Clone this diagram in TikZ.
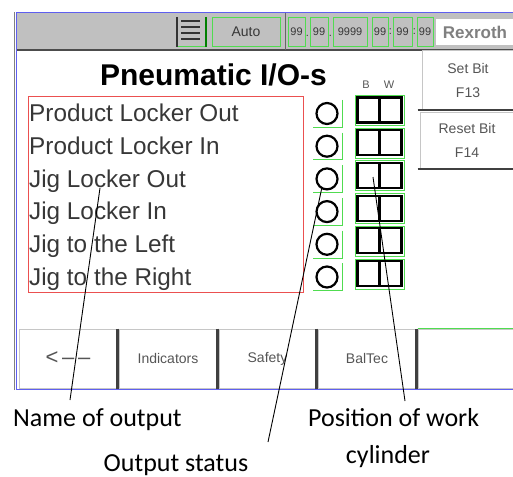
\documentclass[tikz,border=0pt]{standalone}
\usepackage{xcolor}
\usepackage{fontspec}
\setmainfont{Liberation Sans}
\newfontfamily\notefont{Carlito}

\definecolor{hmigreen}{RGB}{80,220,80}
\definecolor{hmired}{RGB}{235,80,80}
\definecolor{frameblue}{RGB}{95,95,240}
\definecolor{bargray}{RGB}{192,192,192}
\definecolor{txtgray}{RGB}{55,55,55}
\definecolor{btngray}{RGB}{85,85,85}

\begin{document}
\begin{tikzpicture}[x=1pt,y=-1pt]
        % Define styles
        \tikzset{
            ioname/.style={anchor=base west, inner sep=0pt, text=txtgray, font=\fontsize{24.3}{24}\selectfont},
            status/.style={circle, draw, line width=2.2pt, minimum size=21pt, inner sep=0pt},
            statframe/.style={rectangle, minimum width=29pt, minimum height=27pt, inner sep=0pt},
            cylbox/.style={rectangle, draw, line width=2.2pt, minimum width=22pt, minimum height=25pt, inner sep=0pt},
            cylframe/.style={rectangle, draw=hmigreen, line width=1pt, minimum width=49pt, minimum height=30pt, inner sep=0pt},
            digit/.style={rectangle, draw=hmigreen, line width=1pt, minimum height=29pt, inner sep=0pt, text=txtgray, font=\fontsize{11}{11}\selectfont},
            sep/.style={inner sep=0pt, text=txtgray, font=\fontsize{11}{11}\selectfont},
            softbtn/.style={rectangle, draw=gray!45, line width=1pt, inner sep=0pt, align=center, text=btngray, font=\fontsize{14}{24}\selectfont},
            darkline/.style={draw=black!75, line width=2.5pt},
            note/.style={inner sep=0pt, font=\notefont\fontsize{26}{26}\selectfont},
            pointer/.style={draw=black, line width=0.9pt}
        }
        \useasboundingbox (0,0) rectangle (513,476);

        % Screen frame and top bar
        \fill[bargray] (17,13) rectangle (513,50);
        \draw[gray, line width=0.8pt] (14.5,12) -- (14.5,390);
        \draw[frameblue, line width=1.6pt] (513,12.5) -- (16.5,12.5) -- (16.5,389.5) -- (513,389.5);
        \draw[black!70, line width=1.5pt] (17,50) -- (513,50);
        \draw[black!60, line width=1pt] (285,13) -- (285,50);

        % Menu icon
        \draw[black!80, line width=1.4pt] (177,17) -- (177,47);
        \draw[black!80, line width=1.2pt] (181,21) -- (200,21) (181,27) -- (200,27)
            (181,33) -- (200,33) (181,39) -- (200,39);
        \draw[hmigreen, line width=1.2pt] (178,46.5) -- (206,46.5);
        \draw[green!50!black, line width=1.4pt] (206,17) -- (206,47);

        % Mode and clock
        \node[digit, minimum width=68pt, font=\fontsize{14}{14}\selectfont] (mode) at (246,32) {Auto};
        \node[digit, minimum width=17pt] (day) at (296.5,32) {99};
        \node[sep] (dot1) at (307.5,36) {.};
        \node[digit, minimum width=18pt] (month) at (319,32) {99};
        \node[sep] (dot2) at (330.5,36) {.};
        \node[digit, minimum width=34pt] (year) at (350,32) {9999};
        \node[digit, minimum width=16pt] (hour) at (380,32) {99};
        \node[sep] (col1) at (390.5,32) {:};
        \node[digit, minimum width=19pt] (minute) at (402.5,32) {99};
        \node[sep] (col2) at (414.5,32) {:};
        \node[digit, minimum width=16pt] (second) at (425,32) {99};
        \node[fill=white, minimum width=78pt, minimum height=26pt, inner sep=0pt, text=gray,
            font=\bfseries\fontsize{17}{17}\selectfont] (brand) at (475,32) {Rexroth};

        % Title
        \node[anchor=base, inner sep=0pt, font=\bfseries\fontsize{30}{30}\selectfont] (title) at (213.5,85) {Pneumatic I/O-s};
        \node[inner sep=0pt, text=btngray, font=\fontsize{11}{11}\selectfont] (blabel) at (366,85) {B};
        \node[inner sep=0pt, text=btngray, font=\fontsize{11}{11}\selectfont] (wlabel) at (389,85) {W};

        % Right buttons
        \node[softbtn, minimum width=92pt, minimum height=58pt] (setbit) at (468,80) {Set Bit\\F13};
        \draw[darkline, line width=2pt] ([xshift=-4pt]setbit.south west) -- (setbit.south east);
        \node[softbtn, minimum width=94pt, minimum height=56pt] (resetbit) at (467,140) {Reset Bit\\F14};
        \draw[darkline, line width=2pt] ([xshift=-2pt]resetbit.south west) -- (resetbit.south east);

        % Names of outputs
        \node[draw=hmired, line width=1pt, minimum width=275pt, minimum height=195pt] (namebox) at (165.5,194.5) {};
        \node[ioname] (name1) at (29,121.7) {Product Locker Out};
        \node[ioname] (name2) at (29,154.4) {Product Locker In};
        \node[ioname] (name3) at (29,187.1) {Jig Locker Out};
        \node[ioname] (name4) at (29,219.8) {Jig Locker In};
        \node[ioname] (name5) at (29,252.5) {Jig to the Left};
        \node[ioname] (name6) at (29,285.2) {Jig to the Right};

        % Output status
        \node[statframe] (sf1) at (327.5,113.5) {};
        \node[statframe] (sf2) at (327.5,146.2) {};
        \node[statframe] (sf3) at (327.5,178.9) {};
        \node[statframe] (sf4) at (327.5,211.6) {};
        \node[statframe] (sf5) at (327.5,244.3) {};
        \node[statframe] (sf6) at (327.5,277) {};
        \draw[hmigreen, line width=1pt] (sf1.north east) |- (sf1.south west);
        \draw[hmigreen, line width=1pt] (sf2.north east) |- (sf2.south west);
        \draw[hmigreen, line width=1pt] (sf3.north east) |- (sf3.south west);
        \draw[hmigreen, line width=1pt] (sf4.north east) |- (sf4.south west);
        \draw[hmigreen, line width=1pt] (sf5.north east) |- (sf5.south west);
        \draw[hmigreen, line width=1pt] (sf6.north east) |- (sf6.south west);
        \node[status] (st1) at (327,113.5) {};
        \node[status] (st2) at (327,146.2) {};
        \node[status] (st3) at (327,178.9) {};
        \node[status] (st4) at (327,211.6) {};
        \node[status] (st5) at (327,244.3) {};
        \node[status] (st6) at (327,277) {};

        % Position of work cylinder
        \node[cylframe] (cf1) at (380,110.5) {};
        \node[cylframe] (cf2) at (380,143.2) {};
        \node[cylframe] (cf3) at (380,175.9) {};
        \node[cylframe] (cf4) at (380,208.6) {};
        \node[cylframe] (cf5) at (380,241.3) {};
        \node[cylframe] (cf6) at (380,274) {};
        \node[cylbox] (b1) at (368.5,110) {}; \node[cylbox] (w1) at (390.5,110) {};
        \node[cylbox] (b2) at (368.5,142.7) {}; \node[cylbox] (w2) at (390.5,142.7) {};
        \node[cylbox] (b3) at (368.5,175.4) {}; \node[cylbox] (w3) at (390.5,175.4) {};
        \node[cylbox] (b4) at (368.5,208.1) {}; \node[cylbox] (w4) at (390.5,208.1) {};
        \node[cylbox] (b5) at (368.5,240.8) {}; \node[cylbox] (w5) at (390.5,240.8) {};
        \node[cylbox] (b6) at (368.5,273.5) {}; \node[cylbox] (w6) at (390.5,273.5) {};

        % Bottom buttons
        \node[softbtn, minimum width=98pt, minimum height=59pt, font=\fontsize{22}{22}\selectfont] (back) at (68,358.5) {<\,–\,–};
        \node[softbtn, minimum width=98pt, minimum height=59pt] (indic) at (168,358.5) {Indicators};
        \node[softbtn, minimum width=97pt, minimum height=59pt] (safety) at (267.5,358.5) {Safety};
        \node[softbtn, minimum width=98pt, minimum height=59pt] (baltec) at (367,358.5) {BalTec};
        \node[softbtn, minimum width=96pt, minimum height=59pt] (blank) at (466,358.5) {};
        \draw[darkline] (back.north east) -- (back.south east);
        \draw[darkline] (indic.north east) -- (indic.south east);
        \draw[darkline] (safety.north east) -- (safety.south east);
        \draw[darkline] (baltec.north east) -- (baltec.south east);
        \draw[hmigreen, line width=1.5pt] (blank.north west) -- (blank.north east);

        % Notes
        \node[note, anchor=base west] (nameout) at (13,426.5) {Name of output};
        \node[note, anchor=base] (outstat) at (176,471) {Output status};
        \node[note, anchor=base west] (poswork) at (308,426.5) {Position of work};
        \node[note, anchor=base] (cylinder) at (388,463) {cylinder};

        % Pointers
        \coordinate (nameTail) at (70,400);
        \coordinate (nameTip) at (100,188);
        \coordinate (statTail) at (268,442);
        \coordinate (statTip) at (322,187);
        \coordinate (posTail) at (405,401);
        \coordinate (posTip) at (373,177);
        \draw[pointer] (nameTail) -- (nameTip);
        \draw[pointer] (statTail) -- (statTip);
        \draw[pointer] (posTail) -- (posTip);
    \end{tikzpicture}
\end{document}
